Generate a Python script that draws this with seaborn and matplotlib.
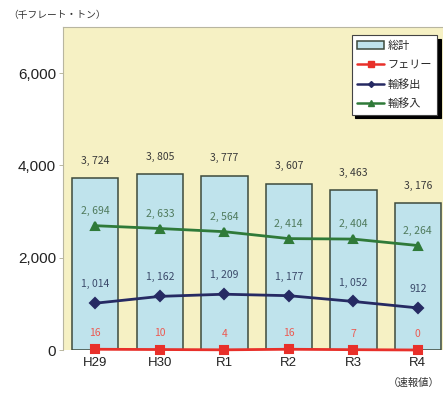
import matplotlib
matplotlib.use("Agg")
import matplotlib.pyplot as plt
import seaborn as sns
import pandas as pd
from matplotlib.lines import Line2D
from matplotlib.patches import Patch

years = ["H29", "H30", "R1", "R2", "R3", "R4"]
total = [3724, 3805, 3777, 3607, 3463, 3176]
ferry = [16, 10, 4, 16, 7, 0]
outbound = [1014, 1162, 1209, 1177, 1052, 912]
inbound = [2694, 2633, 2564, 2414, 2404, 2264]
yticks = [0, 2000, 4000, 6000]

sns.set_theme(style="white")
plt.rcParams["font.family"] = ["Noto Sans CJK JP", "DejaVu Sans"]

BG = "#f6f1c4"
BAR = "#bfe3ec"
BAR_EDGE = "#3d4a3c"
RED = "#e8302a"
NAVY = "#262a63"
GREEN = "#2f7a39"

fig = plt.figure(figsize=(4.43, 3.93), dpi=100)
ax = fig.add_axes([63 / 443, 43 / 393, 380 / 443, 323 / 393])
ax.set_facecolor(BG)

df = pd.DataFrame({"year": years, "total": total, "ferry": ferry,
                   "outbound": outbound, "inbound": inbound})

sns.barplot(data=df, x="year", y="total", color=BAR, edgecolor=BAR_EDGE,
            linewidth=1.1, width=0.72, saturation=1, ax=ax, zorder=2)
sns.pointplot(data=df, x="year", y="inbound", color=GREEN, marker="^",
              markersize=6, linewidth=2.0, ax=ax, zorder=4)
sns.pointplot(data=df, x="year", y="outbound", color=NAVY, marker="D",
              markersize=5, linewidth=2.0, ax=ax, zorder=4)
sns.pointplot(data=df, x="year", y="ferry", color=RED, marker="s",
              markersize=6, linewidth=2.0, ax=ax, zorder=5, clip_on=False)

def fmt(v):
    return f"{v:,}".replace(",", ", ")

for i in range(len(years)):
    ax.annotate(fmt(total[i]), (i, total[i]), xytext=(0, 9), textcoords="offset points",
                ha="center", va="bottom", fontsize=7.5, color="#3a3a3a")
    ax.annotate(fmt(inbound[i]), (i, inbound[i]), xytext=(0, 7), textcoords="offset points",
                ha="center", va="bottom", fontsize=7.5, color="#4f7a5c")
    ax.annotate(fmt(outbound[i]), (i, outbound[i]), xytext=(0, 10), textcoords="offset points",
                ha="center", va="bottom", fontsize=7.5, color="#3b4a6a")
    ax.annotate(fmt(ferry[i]), (i, ferry[i]), xytext=(0, 8), textcoords="offset points",
                ha="center", va="bottom", fontsize=7.5, color="#ec5a52")

ax.set_xlim(-0.5, 5.39)
ax.set_ylim(0, 7000)
ax.set_yticks(yticks)
ax.set_yticklabels([f"{v:,}" for v in yticks], fontsize=11, family="Liberation Sans",
                   color="#222222")
ax.set_xticks(range(len(years)))
ax.set_xticklabels(years, fontsize=9.5, family="Liberation Sans", color="#222222")
ax.tick_params(axis="y", length=3, width=0.6, color="#b0ad90", pad=2, left=True)
ax.tick_params(axis="x", length=0, pad=5)
ax.set_xlabel("")
ax.set_ylabel("")
for side in ["top", "left"]:
    ax.spines[side].set_color("#b8b6a0")
    ax.spines[side].set_linewidth(0.8)
ax.spines["right"].set_visible(False)
ax.spines["bottom"].set_visible(False)

handles = [
    Patch(facecolor=BAR, edgecolor=BAR_EDGE, linewidth=1.1, label="総計"),
    Line2D([], [], color=RED, marker="s", markersize=4, linewidth=1.8, label="フェリー"),
    Line2D([], [], color=NAVY, marker="D", markersize=3, linewidth=1.8, label="輸移出"),
    Line2D([], [], color=GREEN, marker="^", markersize=4, linewidth=1.8, label="輸移入"),
]
leg = ax.legend(handles=handles, loc="upper right", bbox_to_anchor=(0.985, 0.975),
                fontsize=8, frameon=True, fancybox=False, edgecolor="#444444",
                framealpha=1, handlelength=2.4, handletextpad=0.3, borderpad=0.5,
                labelspacing=0.8, borderaxespad=0,
                shadow={"color": "black", "alpha": 1, "ox": 2.5, "oy": -2.5})
leg.get_frame().set_linewidth(0.8)

fig.text(8 / 443, 1 - 15 / 393, "（千フレート・トン）", fontsize=7, va="center",
         ha="left", color="#333333")
fig.text(440 / 443, 1 - 383 / 393, "（速報値）", fontsize=7.5, va="center",
         ha="right", color="#333333")

fig.savefig("out.png", dpi=100)
